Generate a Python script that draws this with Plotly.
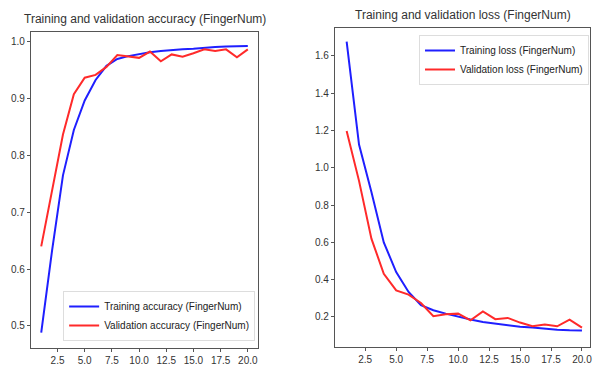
import plotly.graph_objects as go

epochs = list(range(1, 21))
train_acc = [0.488, 0.633, 0.765, 0.845, 0.897, 0.933, 0.958, 0.970, 0.975, 0.979,
             0.982, 0.984, 0.986, 0.987, 0.988, 0.990, 0.991, 0.992, 0.993, 0.993]
val_acc = [0.640, 0.737, 0.837, 0.908, 0.937, 0.942, 0.956, 0.977, 0.975, 0.972,
           0.983, 0.966, 0.978, 0.974, 0.980, 0.987, 0.984, 0.987, 0.973, 0.987]
train_loss = [1.677, 1.125, 0.870, 0.600, 0.441, 0.334, 0.263, 0.236, 0.218, 0.200,
              0.186, 0.173, 0.164, 0.155, 0.148, 0.143, 0.136, 0.132, 0.129, 0.128]
val_loss = [1.198, 0.930, 0.620, 0.432, 0.343, 0.320, 0.275, 0.204, 0.214, 0.218,
            0.182, 0.230, 0.188, 0.195, 0.170, 0.150, 0.160, 0.150, 0.186, 0.143]

acc_ticks = [0.5, 0.6, 0.7, 0.8, 0.9, 1.0]
loss_ticks = [0.2, 0.4, 0.6, 0.8, 1.0, 1.2, 1.4, 1.6]
x_ticks = [2.5, 5.0, 7.5, 10.0, 12.5, 15.0, 17.5, 20.0]

BLUE = "#1f1fff"
RED = "#ff2a2a"
FONT = "Liberation Sans Narrow, Liberation Sans, Arial, sans-serif"

W, H = 597, 376

fig = go.Figure()
fig.add_trace(go.Scatter(x=epochs, y=train_acc, mode="lines", name="Training accuracy (FingerNum)",
                         line=dict(color=BLUE, width=2), xaxis="x", yaxis="y", legend="legend"))
fig.add_trace(go.Scatter(x=epochs, y=val_acc, mode="lines", name="Validation accuracy (FingerNum)",
                         line=dict(color=RED, width=2), xaxis="x", yaxis="y", legend="legend"))
fig.add_trace(go.Scatter(x=epochs, y=train_loss, mode="lines", name="Training loss (FingerNum)",
                         line=dict(color=BLUE, width=2), xaxis="x2", yaxis="y2", legend="legend2"))
fig.add_trace(go.Scatter(x=epochs, y=val_loss, mode="lines", name="Validation loss (FingerNum)",
                         line=dict(color=RED, width=2), xaxis="x2", yaxis="y2", legend="legend2"))

axis_common = dict(showgrid=False, zeroline=False, showline=True, linecolor="#555555", linewidth=1,
                   mirror=True, ticks="outside", ticklen=3, tickcolor="#555555",
                   tickfont=dict(family=FONT, size=10, color="#333333"))

def px2fx(px):
    return px / W

def px2fy(py):
    return 1 - py / H

fig.update_layout(
    width=W, height=H,
    margin=dict(l=0, r=0, t=0, b=0),
    paper_bgcolor="white", plot_bgcolor="white",
    font=dict(family=FONT, size=10, color="#333333"),
    xaxis=dict(domain=[px2fx(31), px2fx(259)], range=[0.05, 20.95], tickvals=x_ticks,
               ticktext=[f"{v:.1f}" for v in x_ticks], anchor="y", **axis_common),
    yaxis=dict(domain=[px2fy(348), px2fy(32)], range=[0.461, 1.0175], tickvals=acc_ticks,
               ticktext=[f"{v:.1f}" for v in acc_ticks], anchor="x", **axis_common),
    xaxis2=dict(domain=[px2fx(336), px2fx(592)], range=[0.05, 20.65], tickvals=x_ticks,
                ticktext=[f"{v:.1f}" for v in x_ticks], anchor="y2", **axis_common),
    yaxis2=dict(domain=[px2fy(347), px2fy(28)], range=[0.039, 1.75], tickvals=loss_ticks,
                ticktext=[f"{v:.1f}" for v in loss_ticks], anchor="x2", **axis_common),
    legend=dict(x=px2fx(256), y=px2fy(341), xanchor="right", yanchor="bottom",
                bgcolor="rgba(255,255,255,0.9)", bordercolor="#dddddd", borderwidth=1,
                font=dict(family=FONT, size=10, color="#222222"), tracegroupgap=0,
                itemwidth=30),
    legend2=dict(x=px2fx(591), y=px2fy(35), xanchor="right", yanchor="top",
                 bgcolor="rgba(255,255,255,0.9)", bordercolor="#dddddd", borderwidth=1,
                 font=dict(family=FONT, size=10, color="#222222"), tracegroupgap=0,
                 itemwidth=30),
    showlegend=True,
    annotations=[
        dict(text="Training and validation accuracy (FingerNum)", x=px2fx(145), y=px2fy(19),
             xref="paper", yref="paper", showarrow=False, xanchor="center", yanchor="middle",
             font=dict(family=FONT, size=12, color="#333333")),
        dict(text="Training and validation loss (FingerNum)", x=px2fx(465), y=px2fy(15.5),
             xref="paper", yref="paper", showarrow=False, xanchor="center", yanchor="middle",
             font=dict(family=FONT, size=12, color="#333333")),
    ],
)

fig.write_html("out.html", config={"displayModeBar": False},
               post_script="document.body.style.margin='0px';document.body.style.overflow='hidden';")
